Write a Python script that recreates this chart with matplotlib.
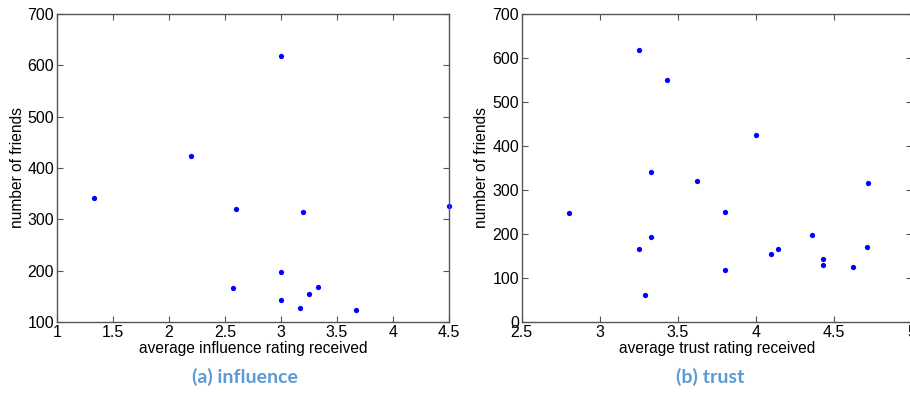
import matplotlib
matplotlib.use('Agg')
import matplotlib.pyplot as plt

# (a) influence
infl_x = [1.33, 2.2, 2.6, 3.0, 3.2, 4.5, 3.0, 2.57, 3.33, 3.25, 3.0, 3.17, 3.67]
infl_y = [341, 424, 320, 619, 315, 326, 197, 166, 169, 154, 142, 128, 123]
infl_xticks = [1, 1.5, 2, 2.5, 3, 3.5, 4, 4.5]
infl_xlabels = ['1', '1.5', '2', '2.5', '3', '3.5', '4', '4.5']
infl_yticks = [100, 200, 300, 400, 500, 600, 700]

# (b) trust
trust_x = [2.8, 3.25, 3.43, 4.0, 3.33, 3.62, 4.72, 3.8, 4.36, 3.33,
           3.25, 4.71, 4.14, 4.1, 4.43, 4.43, 4.62, 3.8, 3.29]
trust_y = [248, 619, 549, 424, 341, 320, 315, 251, 197, 193,
           167, 170, 165, 155, 143, 129, 125, 119, 61]
trust_xticks = [2.5, 3, 3.5, 4, 4.5, 5]
trust_xlabels = ['2.5', '3', '3.5', '4', '4.5', '5']
trust_yticks = [0, 100, 200, 300, 400, 500, 600, 700]

plt.rcParams['font.family'] = ['Liberation Sans', 'DejaVu Sans']

fig = plt.figure(figsize=(9.1, 3.93), dpi=100)
ax1 = fig.add_axes([57 / 910, 1 - 322 / 393, (449 - 57) / 910, 308 / 393])
ax2 = fig.add_axes([521.7 / 910, 1 - 322 / 393, (912 - 521.7) / 910, 308 / 393])


def style(ax, xticks, xlabels, yticks, xlim, ylim, xlabel):
    ax.set_xlim(*xlim)
    ax.set_ylim(*ylim)
    ax.set_xticks(xticks)
    ax.set_xticklabels(xlabels)
    ax.set_yticks(yticks)
    ax.set_yticklabels([str(v) for v in yticks])
    ax.tick_params(direction='in', length=4, width=0.8, top=True, right=True,
                   labelsize=11.5, colors='#555555', labelcolor='black', pad=2)
    for s in ax.spines.values():
        s.set_color('#555555')
        s.set_linewidth(1.0)
    ax.set_xlabel(xlabel, fontsize=11.2, labelpad=1)
    ax.set_ylabel('number of friends', fontsize=11.2, labelpad=2)


ax1.plot(infl_x, infl_y, 'o', color='#0000ff', ms=3.8, mec='none', clip_on=False)
style(ax1, infl_xticks, infl_xlabels, infl_yticks, (1, 4.5), (100, 700),
      'average influence rating received')

ax2.plot(trust_x, trust_y, 'o', color='#0000ff', ms=3.8, mec='none', clip_on=False)
style(ax2, trust_xticks, trust_xlabels, trust_yticks, (2.5, 5), (0, 700),
      'average trust rating received')

fig.text(245 / 910, 1 - 377 / 393, '(a) influence', ha='center', va='center',
         fontsize=14, fontweight='bold', color='#5b9bd5', family=['Lato', 'DejaVu Sans'])
fig.text(710 / 910, 1 - 377 / 393, '(b) trust', ha='center', va='center',
         fontsize=14, fontweight='bold', color='#5b9bd5', family=['Lato', 'DejaVu Sans'])

fig.savefig('out.png', dpi=100)
